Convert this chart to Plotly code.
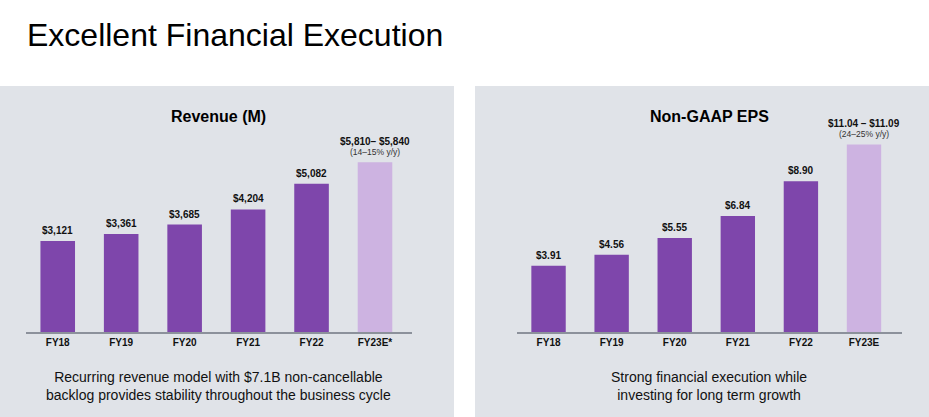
import plotly.graph_objects as go

W, H = 929, 417

categories_rev = ["FY18", "FY19", "FY20", "FY21", "FY22", "FY23E*"]
revenue = [3121, 3361, 3685, 4204, 5082, 5825]
revenue_labels = ["$3,121", "$3,361", "$3,685", "$4,204", "$5,082", "$5,810– $5,840"]
revenue_sub = "(14–15% y/y)"

categories_eps = ["FY18", "FY19", "FY20", "FY21", "FY22", "FY23E"]
eps = [3.91, 4.56, 5.55, 6.84, 8.90, 11.065]
eps_labels = ["$3.91", "$4.56", "$5.55", "$6.84", "$8.90", "$11.04 – $11.09"]
eps_sub = "(24–25% y/y)"

PURPLE = "#7E46AB"
LIGHT = "#CDB3E1"
PANEL = "#E0E3E8"
FONT = "Liberation Sans, Arial, sans-serif"

def px(x):
    return x / W

def py(y):
    return 1 - y / H

fig = go.Figure()

colors = [PURPLE] * 5 + [LIGHT]
fig.add_trace(go.Bar(x=categories_rev, y=revenue, marker_color=colors,
                     marker_line_width=0, xaxis="x", yaxis="y", hoverinfo="skip"))
fig.add_trace(go.Bar(x=categories_eps, y=eps, marker_color=colors,
                     marker_line_width=0, xaxis="x2", yaxis="y2", hoverinfo="skip"))

base_y = 332
top_y = 100
ydom = [py(base_y), py(top_y)]
plot_h = base_y - top_y
rev_max = plot_h / 0.02915
eps_max = plot_h / 16.95

axis_common = dict(
    showline=True, linecolor="#8C919B", linewidth=2, ticks="",
    showgrid=False, zeroline=False, fixedrange=True,
    tickfont=dict(family=FONT, size=10, color="#111111", weight="bold"),
)

annotations = []
# bar value labels
for i, (c, v, t) in enumerate(zip(categories_rev, revenue, revenue_labels)):
    if i < 5:
        annotations.append(dict(x=c, y=v, xref="x", yref="y", text=t, showarrow=False,
                                yanchor="bottom", yshift=3,
                                font=dict(family=FONT, size=10, color="#111111", weight="bold")))
    else:
        annotations.append(dict(x=c, y=v, xref="x", yref="y", text=revenue_sub, showarrow=False,
                                yanchor="bottom", yshift=3,
                                font=dict(family=FONT, size=8.5, color="#333333")))
        annotations.append(dict(x=c, y=v, xref="x", yref="y", text=t, showarrow=False,
                                yanchor="bottom", yshift=13,
                                font=dict(family=FONT, size=10, color="#111111", weight="bold")))
for i, (c, v, t) in enumerate(zip(categories_eps, eps, eps_labels)):
    if i < 5:
        annotations.append(dict(x=c, y=v, xref="x2", yref="y2", text=t, showarrow=False,
                                yanchor="bottom", yshift=3,
                                font=dict(family=FONT, size=10, color="#111111", weight="bold")))
    else:
        annotations.append(dict(x=c, y=v, xref="x2", yref="y2", text=eps_sub, showarrow=False,
                                yanchor="bottom", yshift=3,
                                font=dict(family=FONT, size=8.5, color="#333333")))
        annotations.append(dict(x=c, y=v, xref="x2", yref="y2", text=t, showarrow=False,
                                yanchor="bottom", yshift=13,
                                font=dict(family=FONT, size=10, color="#111111", weight="bold")))

# titles
annotations.append(dict(x=px(25), y=py(35), xref="paper", yref="paper", xanchor="left", yanchor="middle",
                        text="Excellent Financial Execution", showarrow=False,
                        font=dict(family=FONT, size=32, color="#000000")))
annotations.append(dict(x=px(218), y=py(116), xref="paper", yref="paper", xanchor="center", yanchor="middle",
                        text="Revenue (M)", showarrow=False,
                        font=dict(family=FONT, size=16, color="#000000", weight="bold")))
annotations.append(dict(x=px(709), y=py(116), xref="paper", yref="paper", xanchor="center", yanchor="middle",
                        text="Non-GAAP EPS", showarrow=False,
                        font=dict(family=FONT, size=16, color="#000000", weight="bold")))
annotations.append(dict(x=px(218), y=py(386), xref="paper", yref="paper", xanchor="center", yanchor="middle",
                        text="Recurring revenue model with $7.1B non-cancellable<br>backlog provides stability throughout the business cycle",
                        showarrow=False, align="center",
                        font=dict(family=FONT, size=14, color="#111111")))
annotations.append(dict(x=px(709), y=py(386), xref="paper", yref="paper", xanchor="center", yanchor="middle",
                        text="Strong financial execution while<br>investing for long term growth",
                        showarrow=False, align="center",
                        font=dict(family=FONT, size=14, color="#111111")))

shapes = [
    dict(type="rect", xref="paper", yref="paper", x0=0, x1=px(454), y0=0, y1=py(86),
         fillcolor=PANEL, line_width=0, layer="below"),
    dict(type="rect", xref="paper", yref="paper", x0=px(475), x1=1, y0=0, y1=py(86),
         fillcolor=PANEL, line_width=0, layer="below"),
]

fig.update_layout(
    width=W, height=H, margin=dict(l=0, r=0, t=0, b=0),
    paper_bgcolor="white", plot_bgcolor="rgba(0,0,0,0)",
    showlegend=False, bargap=0.455,
    xaxis=dict(domain=[px(26), px(412)], anchor="y", **axis_common),
    yaxis=dict(domain=ydom, range=[0, rev_max], visible=False, fixedrange=True),
    xaxis2=dict(domain=[px(517), px(902)], anchor="y2", **axis_common),
    yaxis2=dict(domain=ydom, range=[0, eps_max], visible=False, fixedrange=True),
    annotations=annotations, shapes=shapes,
)

fig.write_html("out.html", config={"displayModeBar": False})
